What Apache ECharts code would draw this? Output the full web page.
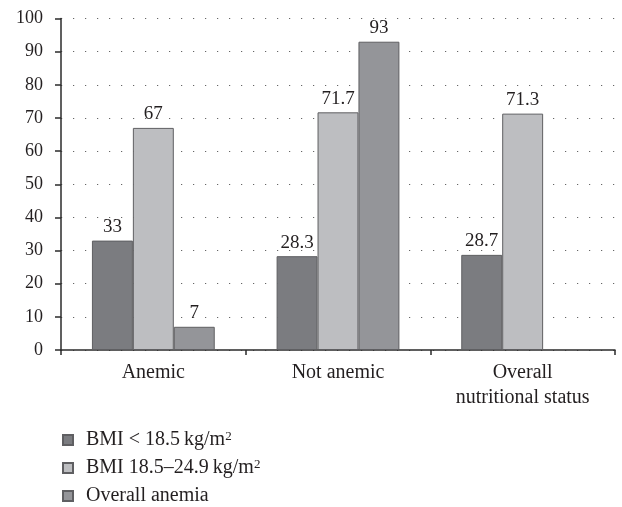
<!DOCTYPE html>
<html>
<head>
<meta charset="utf-8">
<script src="https://cdn.jsdelivr.net/npm/echarts@6/dist/echarts.min.js"></script>
<style>
  html, body { margin: 0; padding: 0; background: #fff; }
  #chart { width: 622px; height: 507px; }
</style>
</head>
<body>
<div id="chart"></div>
<script>
// data
var categories = ["Anemic", "Not anemic", "Overall\nnutritional status"];
var bmiUnder = [33, 28.3, 28.7];
var bmiNormal = [67, 71.7, 71.3];
var overallAnemia = [7, 93, "-"];
var yMin = 0, yMax = 100, yStep = 10;

var seriesNames = ["BMI < 18.5\u2009kg/m", "BMI 18.5\u201324.9\u2009kg/m", "Overall anemia"];

var font = "'Liberation Serif', 'Times New Roman', serif";
var ink = "#231f20";

var chart = echarts.init(document.getElementById("chart"));

function barSeries(name, data, color) {
  return {
    name: name,
    type: "bar",
    data: data,
    barGap: 0,
    barCategoryGap: "33.5%",
    itemStyle: {
      color: color,
      borderColor: "#5f5f62",
      borderWidth: 1,
    },
    label: {
      show: true,
      position: "top",
      distance: 4,
      fontFamily: font,
      fontSize: 19,
      color: ink,
    },
  };
}

var option = {
  animation: false,
  backgroundColor: "#fff",
  grid: {
    left: 61,
    right: 7,
    top: 18.5,
    bottom: 157,
  },
  legend: {
    orient: "vertical",
    left: 62,
    top: 430,
    padding: 0,
    itemWidth: 10,
    itemHeight: 10,
    itemGap: 8,
    icon: "rect",
    formatter: function (name) {
      if (name === "Overall anemia") return "{t|" + name + "}";
      return "{t|" + name + "}{s|2}";
    },
    textStyle: {
      padding: [0, 0, 0, 8],
      color: ink,
      fontFamily: font,
      rich: {
        t: {
          fontFamily: font,
          fontSize: 20,
          lineHeight: 20,
          color: ink,
          verticalAlign: "middle",
        },
        s: {
          fontFamily: font,
          fontSize: 13,
          lineHeight: 8,
          color: ink,
          verticalAlign: "top",
        },
      },
    },
    data: seriesNames,
  },
  xAxis: {
    type: "category",
    data: categories,
    axisLine: { lineStyle: { color: "#2b2b2b", width: 1.5 } },
    axisTick: { show: true, length: 5, lineStyle: { color: "#2b2b2b", width: 1.5 } },
    axisLabel: {
      margin: 10,
      fontFamily: font,
      fontSize: 20,
      lineHeight: 25,
      color: ink,
    },
  },
  yAxis: {
    type: "value",
    min: yMin,
    max: yMax,
    interval: yStep,
    axisLine: { show: true, lineStyle: { color: "#2b2b2b", width: 1.5 } },
    axisTick: { show: true, length: 6, lineStyle: { color: "#2b2b2b", width: 1.5 } },
    axisLabel: {
      margin: 18,
      fontFamily: font,
      fontSize: 18,
      color: ink,
    },
    splitLine: {
      show: true,
      lineStyle: { color: "#666", width: 1.2, type: [1.2, 10.8], dashOffset: -12 },
    },
  },
  series: [
    barSeries(seriesNames[0], bmiUnder, "#7b7c80"),
    barSeries(seriesNames[1], bmiNormal, "#bdbec1"),
    barSeries(seriesNames[2], overallAnemia, "#949599"),
  ],
};

chart.setOption(option);
</script>
</body>
</html>
